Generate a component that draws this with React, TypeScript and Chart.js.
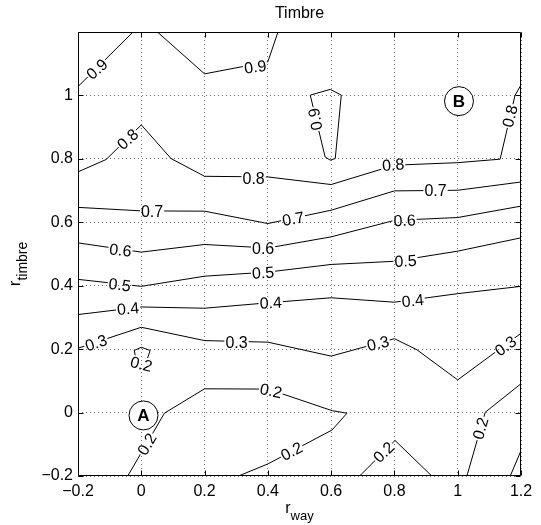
import React, { useEffect, useRef } from 'react';
import { Chart, registerables } from 'chart.js';

Chart.register(...registerables);

// ---- axis ticks ----
const xTicks = [-0.2, 0, 0.2, 0.4, 0.6, 0.8, 1, 1.2];
const yTicks = [-0.2, 0, 0.2, 0.4, 0.6, 0.8, 1];
const xMin = -0.2, xMax = 1.2, yMin = -0.2, yMax = 1.2;

const titleText = 'Timbre';
const xLabelMain = 'r', xLabelSub = 'way';
const yLabelMain = 'r', yLabelSub = 'timbre';

// ---- contour polylines (data coords: [r_way, r_timbre]) ----
type P = [number, number];
const level09a: P[] = [[-0.2, 1.028], [-0.026, 1.2]];
const level09b: P[] = [[0.051, 1.2], [0.2, 1.068], [0.4, 1.106], [0.432, 1.2]];
const level09loop: P[] = [[0.534, 1.001], [0.597, 1.019], [0.632, 1.001], [0.613, 0.801], [0.597, 0.796], [0.581, 0.806], [0.534, 1.001]];
const level08: P[] = [[-0.2, 0.759], [-0.111, 0.798], [0, 0.907], [0.094, 0.801], [0.2, 0.745], [0.4, 0.743], [0.6, 0.719], [0.8, 0.78], [1.0, 0.788], [1.134, 0.799], [1.181, 1.0], [1.2, 1.033]];
const level07: P[] = [[-0.2, 0.647], [0, 0.636], [0.2, 0.635], [0.4, 0.596], [0.6, 0.638], [0.8, 0.699], [1.0, 0.701], [1.2, 0.727]];
const level06: P[] = [[-0.2, 0.535], [0, 0.506], [0.2, 0.53], [0.4, 0.519], [0.6, 0.554], [0.8, 0.606], [1.0, 0.615], [1.2, 0.651]];
const level05: P[] = [[-0.2, 0.42], [0, 0.398], [0.2, 0.43], [0.4, 0.443], [0.6, 0.467], [0.8, 0.477], [1.0, 0.509], [1.2, 0.551]];
const level04: P[] = [[-0.2, 0.309], [0, 0.333], [0.2, 0.329], [0.4, 0.346], [0.6, 0.362], [0.8, 0.348], [1.0, 0.375], [1.2, 0.398]];
const level03: P[] = [[-0.2, 0.203], [0, 0.269], [0.2, 0.227], [0.4, 0.222], [0.6, 0.178], [0.8, 0.233], [0.871, 0.198], [1.0, 0.103], [1.2, 0.25]];
const level02small: P[] = [[-0.018, 0.172], [-0.022, 0.196], [0, 0.206], [0.028, 0.196], [0.02, 0.172]];
const level02a: P[] = [[-0.043, -0.2], [0.044, -0.052], [0.073, -0.002], [0.2, 0.075], [0.4, 0.074], [0.44, 0.061], [0.603, 0.006], [0.65, -0.002], [0.603, -0.055], [0.4, -0.162], [0.307, -0.2]];
const level02b: P[] = [[0.69, -0.2], [0.802, -0.088], [0.918, -0.2]];
const level02c: P[] = [[1.029, -0.2], [1.087, 0.001], [1.2, 0.091]];
const level01: P[] = [[1.166, -0.2], [1.2, -0.12]];

const contourLines: P[][] = [
  level09a, level09b, level09loop, level08, level07, level06, level05,
  level04, level03, level02small, level02a, level02b, level02c, level01,
];

// ---- inline contour labels: text, position, rotation (deg, clockwise) ----
const labelTexts = ['0.9', '0.9', '0.9', '0.8', '0.8', '0.8', '0.8', '0.7', '0.7', '0.7', '0.6', '0.6', '0.6', '0.5', '0.5', '0.5', '0.4', '0.4', '0.4', '0.3', '0.3', '0.3', '0.3', '0.2', '0.2', '0.2', '0.2', '0.2', '0.2'];
const labelX = [-0.14, 0.36, 0.55, -0.043, 0.355, 0.796, 1.165, 0.034, 0.48, 0.93, -0.066, 0.385, 0.832, -0.068, 0.385, 0.835, -0.042, 0.409, 0.858, -0.143, 0.301, 0.748, 1.151, 0.0, 0.018, 0.41, 0.475, 0.766, 1.072];
const labelY = [1.083, 1.09, 0.925, 0.862, 0.739, 0.781, 0.935, 0.634, 0.611, 0.699, 0.512, 0.518, 0.606, 0.403, 0.441, 0.478, 0.328, 0.346, 0.353, 0.22, 0.222, 0.218, 0.21, 0.153, -0.1, 0.069, -0.122, -0.125, -0.05];
const labelAngle = [-42, -8, -100, -42, 0, -4, -76, 0, -10, 0, 7, 0, -2, 7, -3, -3, -5, -3, -6, -18, 0, -14, -36, 15, -60, 12, -27, -44, -74];

// ---- circled markers ----
const markerText = ['A', 'B'];
const markerX = [0.007, 1.004];
const markerY = [-0.009, 0.982];

const FONT = '"Liberation Sans", Arial, Helvetica, sans-serif';

const fmt = (v: number) => {
  const r = Math.round(v * 10) / 10;
  return (r === 0 ? '0' : String(r)).replace('-', '\u2212');
};

const matlabPlugin = {
  id: 'matlabDecor',
  beforeDatasetsDraw(chart: any) {
    const { ctx } = chart;
    const xs = chart.scales.x, ys = chart.scales.y;
    ctx.save();
    ctx.font = `16px ${FONT}`;
    ctx.beginPath();
    ctx.rect(0, 0, chart.width, chart.height);
    for (let i = 0; i < labelTexts.length; i++) {
      const px = xs.getPixelForValue(labelX[i]);
      const py = ys.getPixelForValue(labelY[i]);
      const w = ctx.measureText(labelTexts[i]).width + 2;
      const h = 14;
      const a = (labelAngle[i] * Math.PI) / 180;
      const c = Math.cos(a), s = Math.sin(a);
      const corners = [[-w / 2, -h / 2], [w / 2, -h / 2], [w / 2, h / 2], [-w / 2, h / 2]].map(
        ([u, v]) => [px + u * c - v * s, py + u * s + v * c]
      );
      ctx.moveTo(corners[0][0], corners[0][1]);
      for (let k = 1; k < 4; k++) ctx.lineTo(corners[k][0], corners[k][1]);
      ctx.closePath();
    }
    ctx.clip('evenodd');
  },
  afterDatasetsDraw(chart: any) {
    const { ctx, chartArea } = chart;
    ctx.restore();
    const xs = chart.scales.x, ys = chart.scales.y;

    // contour labels
    ctx.save();
    ctx.fillStyle = '#000';
    ctx.font = `16px ${FONT}`;
    ctx.textAlign = 'center';
    ctx.textBaseline = 'middle';
    for (let i = 0; i < labelTexts.length; i++) {
      const px = xs.getPixelForValue(labelX[i]);
      const py = ys.getPixelForValue(labelY[i]);
      ctx.save();
      ctx.translate(px, py);
      ctx.rotate((labelAngle[i] * Math.PI) / 180);
      ctx.fillText(labelTexts[i], 0, 1);
      ctx.restore();
    }
    ctx.restore();

    // circled markers
    ctx.save();
    for (let i = 0; i < markerText.length; i++) {
      const px = xs.getPixelForValue(markerX[i]);
      const py = ys.getPixelForValue(markerY[i]);
      ctx.beginPath();
      ctx.arc(px, py, 14.5, 0, Math.PI * 2);
      ctx.fillStyle = '#fff';
      ctx.fill();
      ctx.lineWidth = 1;
      ctx.strokeStyle = '#000';
      ctx.stroke();
      ctx.fillStyle = '#000';
      ctx.font = `bold 17px ${FONT}`;
      ctx.textAlign = 'center';
      ctx.textBaseline = 'middle';
      ctx.fillText(markerText[i], px, py + 1);
    }
    ctx.restore();

    // frame and inward ticks
    const L = Math.round(chartArea.left) + 0.5;
    const R = Math.round(chartArea.right) - 0.5;
    const T = Math.round(chartArea.top) + 0.5;
    const B = Math.round(chartArea.bottom) - 0.5;
    ctx.save();
    ctx.strokeStyle = '#000';
    ctx.lineWidth = 1;
    ctx.beginPath();
    ctx.rect(L, T, R - L, B - T);
    const tl = 5;
    for (const v of xTicks) {
      const px = Math.round(xs.getPixelForValue(v)) + 0.5;
      ctx.moveTo(px, B); ctx.lineTo(px, B - tl);
      ctx.moveTo(px, T); ctx.lineTo(px, T + tl);
    }
    for (const v of yTicks) {
      const py = Math.round(ys.getPixelForValue(v)) + 0.5;
      ctx.moveTo(L, py); ctx.lineTo(L + tl, py);
      ctx.moveTo(R, py); ctx.lineTo(R - tl, py);
    }
    ctx.stroke();
    ctx.restore();

    // title and axis labels
    ctx.save();
    ctx.fillStyle = '#000';
    ctx.textBaseline = 'alphabetic';
    const cx = (chartArea.left + chartArea.right) / 2;
    ctx.font = `16px ${FONT}`;
    ctx.textAlign = 'center';
    ctx.fillText(titleText, cx, 18);

    // x label with subscript
    ctx.textAlign = 'left';
    ctx.font = `16px ${FONT}`;
    const wMain = ctx.measureText(xLabelMain).width;
    ctx.font = `13px ${FONT}`;
    const wSub = ctx.measureText(xLabelSub).width;
    const x0 = cx - (wMain + wSub) / 2;
    ctx.font = `16px ${FONT}`;
    ctx.fillText(xLabelMain, x0, 513);
    ctx.font = `13px ${FONT}`;
    ctx.fillText(xLabelSub, x0 + wMain, 520);

    // y label with subscript (rotated)
    const cy = (chartArea.top + chartArea.bottom) / 2 + 10;
    ctx.translate(20, cy);
    ctx.rotate(-Math.PI / 2);
    ctx.font = `17px ${FONT}`;
    const yw = ctx.measureText(yLabelMain).width;
    ctx.font = `14px ${FONT}`;
    const ys2 = ctx.measureText(yLabelSub).width;
    const y0 = -(yw + ys2) / 2;
    ctx.font = `17px ${FONT}`;
    ctx.fillText(yLabelMain, y0, 0);
    ctx.font = `14px ${FONT}`;
    ctx.fillText(yLabelSub, y0 + yw, 7);
    ctx.restore();
  },
};

export default function App() {
  const ref = useRef<HTMLCanvasElement | null>(null);
  useEffect(() => {
    if (!ref.current) return;
    const chart = new Chart(ref.current, {
      type: 'scatter',
      data: {
        datasets: contourLines.map((pts) => ({
          data: pts.map(([x, y]) => ({ x, y })),
          showLine: true,
          borderColor: '#000',
          borderWidth: 1,
          pointRadius: 0,
          pointHoverRadius: 0,
          fill: false,
          tension: 0,
        })),
      },
      options: {
        animation: false,
        responsive: false,
        events: [],
        layout: { padding: { top: 32, right: 20, left: 0, bottom: 0 } },
        plugins: {
          legend: { display: false },
          tooltip: { enabled: false },
          title: { display: false },
        },
        scales: {
          x: {
            type: 'linear',
            min: xMin,
            max: xMax,
            afterBuildTicks: (s: any) => { s.ticks = xTicks.map((v) => ({ value: v })); },
            afterFit: (s: any) => { s.height = 49; },
            ticks: {
              callback: (v: any) => fmt(Number(v)),
              font: { family: FONT, size: 16 },
              color: '#000',
              padding: 6,
              maxRotation: 0,
              autoSkip: false,
            },
            grid: { color: 'rgba(0,0,0,0.55)', drawTicks: false, lineWidth: 1 },
            border: { display: false, dash: [1, 3] },
          },
          y: {
            type: 'linear',
            min: yMin,
            max: yMax,
            afterBuildTicks: (s: any) => { s.ticks = yTicks.map((v) => ({ value: v })); },
            afterFit: (s: any) => { s.width = 78; },
            ticks: {
              callback: (v: any) => fmt(Number(v)),
              font: { family: FONT, size: 16 },
              color: '#000',
              padding: 5,
              autoSkip: false,
            },
            grid: { color: 'rgba(0,0,0,0.55)', drawTicks: false, lineWidth: 1 },
            border: { display: false, dash: [1, 3] },
          },
        },
      },
      plugins: [matlabPlugin],
    } as any);
    return () => chart.destroy();
  }, []);
  return (
    <div style={{ position: 'fixed', left: 0, top: 0, width: 541, height: 525, background: '#fff' }}>
      <canvas ref={ref} width={541} height={525} style={{ display: 'block' }} />
    </div>
  );
}
